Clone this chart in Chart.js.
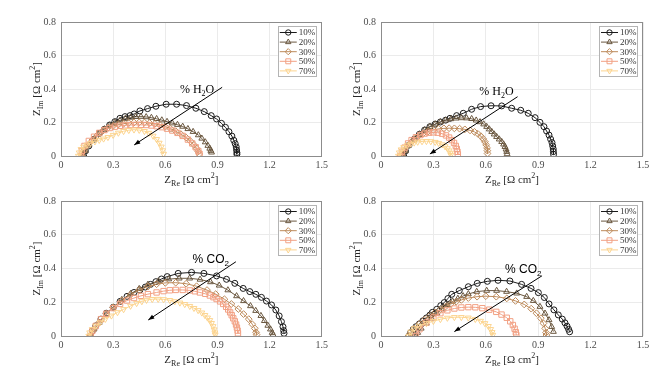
<!DOCTYPE html>
<html>
<head>
<meta charset="utf-8">
<script src="https://cdn.jsdelivr.net/npm/chart.js@4.4.0/dist/chart.umd.min.js"></script>
<style>
  body { margin: 0; background: #fff; width: 662px; height: 370px; position: relative; overflow: hidden; }
  canvas { position: absolute; }
</style>
</head>
<body>
<canvas id="pTL" width="331" height="192" style="left:0;top:0"></canvas>
<canvas id="pTR" width="331" height="192" style="left:331px;top:0"></canvas>
<canvas id="pBL" width="331" height="185" style="left:0;top:185px"></canvas>
<canvas id="pBR" width="331" height="185" style="left:331px;top:185px"></canvas>
<script>
// legend labels and axis ticks
const pctLabels = ['10%', '20%', '30%', '50%', '70%'];
const xTicks = [0, 0.3, 0.6, 0.9, 1.2, 1.5];
const yTicks = [0, 0.2, 0.4, 0.6, 0.8];

// top left, % H2O  -- [Z_Re, Z_Im] in ohm cm2
const h2oA_10 = [[0.13,0.0],[0.14,0.03],[0.16,0.06],[0.19,0.10],[0.22,0.135],[0.25,0.16],[0.28,0.185],[0.31,0.205],[0.339,0.225],[0.368,0.235],[0.397,0.241],[0.421,0.251],[0.454,0.269],[0.498,0.283],[0.546,0.297],[0.605,0.309],[0.665,0.309],[0.722,0.301],[0.776,0.285],[0.824,0.265],[0.864,0.241],[0.895,0.221],[0.923,0.195],[0.946,0.171],[0.966,0.145],[0.983,0.119],[0.994,0.094],[1.002,0.074],[1.008,0.054],[1.010,0.036],[1.012,0.020],[1.012,0.010]];
const h2oA_20 = [[0.13,0.0],[0.14,0.03],[0.16,0.065],[0.19,0.10],[0.22,0.135],[0.25,0.16],[0.28,0.182],[0.31,0.2],[0.34,0.213],[0.37,0.223],[0.40,0.23],[0.43,0.234],[0.46,0.235],[0.49,0.233],[0.52,0.229],[0.55,0.222],[0.58,0.214],[0.61,0.205],[0.64,0.196],[0.67,0.187],[0.70,0.176],[0.73,0.162],[0.76,0.145],[0.79,0.125],[0.81,0.105],[0.83,0.083],[0.845,0.062],[0.856,0.045],[0.862,0.032],[0.866,0.022]];
const h2oA_30 = [[0.12,0.0],[0.13,0.03],[0.15,0.06],[0.18,0.095],[0.21,0.125],[0.24,0.15],[0.27,0.168],[0.30,0.18],[0.33,0.188],[0.36,0.193],[0.39,0.197],[0.42,0.2],[0.45,0.201],[0.48,0.2],[0.51,0.197],[0.54,0.192],[0.57,0.185],[0.60,0.175],[0.63,0.163],[0.66,0.148],[0.69,0.13],[0.72,0.11],[0.745,0.088],[0.765,0.066],[0.78,0.045],[0.79,0.027],[0.795,0.012]];
const h2oA_50 = [[0.115,0.0],[0.12,0.03],[0.135,0.06],[0.16,0.09],[0.19,0.115],[0.22,0.138],[0.25,0.155],[0.28,0.167],[0.31,0.175],[0.34,0.18],[0.37,0.183],[0.40,0.185],[0.43,0.186],[0.46,0.186],[0.49,0.185],[0.52,0.182],[0.55,0.178],[0.58,0.172],[0.61,0.163],[0.64,0.152],[0.67,0.138],[0.70,0.12],[0.73,0.098],[0.755,0.075],[0.775,0.052],[0.79,0.03],[0.797,0.012]];
const h2oA_70 = [[0.10,0.0],[0.105,0.02],[0.115,0.04],[0.13,0.055],[0.15,0.067],[0.17,0.077],[0.195,0.086],[0.22,0.095],[0.245,0.103],[0.27,0.112],[0.30,0.125],[0.33,0.138],[0.36,0.148],[0.39,0.154],[0.42,0.157],[0.45,0.155],[0.48,0.148],[0.505,0.137],[0.53,0.12],[0.55,0.1],[0.565,0.078],[0.577,0.055],[0.585,0.033],[0.59,0.012]];

// top right, % H2O
const h2oB_10 = [[0.13,0.0],[0.14,0.03],[0.16,0.065],[0.19,0.10],[0.22,0.13],[0.25,0.155],[0.28,0.175],[0.31,0.19],[0.34,0.203],[0.37,0.214],[0.395,0.225],[0.433,0.241],[0.471,0.255],[0.519,0.279],[0.570,0.295],[0.630,0.300],[0.691,0.299],[0.748,0.285],[0.800,0.273],[0.843,0.255],[0.882,0.229],[0.910,0.201],[0.933,0.175],[0.948,0.149],[0.962,0.125],[0.971,0.101],[0.979,0.080],[0.983,0.060],[0.986,0.042],[0.987,0.026],[0.988,0.010]];
const h2oB_20 = [[0.13,0.0],[0.14,0.03],[0.16,0.065],[0.19,0.10],[0.22,0.13],[0.25,0.155],[0.28,0.175],[0.31,0.19],[0.34,0.203],[0.37,0.213],[0.40,0.221],[0.43,0.225],[0.46,0.227],[0.49,0.226],[0.519,0.222],[0.545,0.213],[0.567,0.203],[0.588,0.19],[0.605,0.175],[0.62,0.16],[0.634,0.145],[0.648,0.13],[0.662,0.115],[0.677,0.1],[0.691,0.085],[0.702,0.07],[0.71,0.055],[0.716,0.04],[0.72,0.026],[0.722,0.012]];
const h2oB_30 = [[0.12,0.0],[0.13,0.03],[0.15,0.06],[0.18,0.09],[0.21,0.115],[0.24,0.133],[0.27,0.146],[0.30,0.156],[0.33,0.162],[0.36,0.165],[0.39,0.166],[0.42,0.165],[0.45,0.163],[0.48,0.159],[0.51,0.153],[0.535,0.144],[0.555,0.132],[0.572,0.118],[0.585,0.102],[0.595,0.085],[0.602,0.067],[0.607,0.049],[0.609,0.032],[0.61,0.015]];
const h2oB_50 = [[0.11,0.0],[0.12,0.025],[0.135,0.05],[0.155,0.075],[0.175,0.095],[0.2,0.112],[0.225,0.125],[0.25,0.134],[0.275,0.139],[0.3,0.141],[0.325,0.139],[0.35,0.133],[0.372,0.123],[0.39,0.11],[0.405,0.095],[0.418,0.078],[0.428,0.06],[0.434,0.042],[0.438,0.025],[0.44,0.01]];
const h2oB_70 = [[0.10,0.0],[0.105,0.02],[0.115,0.038],[0.13,0.052],[0.15,0.063],[0.17,0.072],[0.19,0.079],[0.21,0.084],[0.235,0.087],[0.26,0.088],[0.285,0.087],[0.31,0.083],[0.33,0.077],[0.35,0.068],[0.367,0.057],[0.38,0.045],[0.39,0.032],[0.397,0.018],[0.40,0.006]];

// bottom left, % CO2
const co2A_10 = [[0.17,0.0],[0.18,0.03],[0.2,0.06],[0.23,0.1],[0.26,0.135],[0.30,0.17],[0.34,0.205],[0.38,0.235],[0.42,0.258],[0.454,0.273],[0.485,0.29],[0.515,0.306],[0.546,0.322],[0.578,0.338],[0.611,0.352],[0.674,0.371],[0.751,0.377],[0.822,0.371],[0.895,0.356],[0.952,0.336],[1.0,0.312],[1.048,0.282],[1.086,0.263],[1.121,0.247],[1.153,0.229],[1.182,0.207],[1.211,0.184],[1.236,0.154],[1.255,0.119],[1.268,0.085],[1.277,0.055],[1.281,0.032],[1.283,0.016]];
const co2A_20 = [[0.17,0.0],[0.19,0.04],[0.22,0.08],[0.26,0.13],[0.30,0.17],[0.35,0.215],[0.40,0.25],[0.45,0.28],[0.50,0.305],[0.56,0.325],[0.62,0.337],[0.68,0.342],[0.74,0.342],[0.80,0.335],[0.86,0.32],[0.91,0.30],[0.96,0.272],[1.01,0.237],[1.05,0.208],[1.09,0.178],[1.12,0.15],[1.15,0.12],[1.17,0.09],[1.19,0.062],[1.205,0.04],[1.215,0.02],[1.22,0.008]];
const co2A_30 = [[0.17,0.0],[0.19,0.04],[0.22,0.08],[0.26,0.13],[0.30,0.17],[0.35,0.21],[0.40,0.245],[0.45,0.272],[0.50,0.293],[0.55,0.307],[0.60,0.315],[0.66,0.316],[0.72,0.31],[0.78,0.295],[0.84,0.272],[0.89,0.248],[0.94,0.218],[0.98,0.19],[1.02,0.16],[1.05,0.13],[1.08,0.10],[1.10,0.07],[1.115,0.045],[1.122,0.022],[1.125,0.008]];
const co2A_50 = [[0.17,0.0],[0.18,0.03],[0.2,0.06],[0.23,0.1],[0.26,0.132],[0.30,0.165],[0.34,0.19],[0.38,0.21],[0.42,0.225],[0.46,0.238],[0.50,0.248],[0.55,0.258],[0.59,0.266],[0.626,0.271],[0.66,0.273],[0.70,0.273],[0.741,0.27],[0.77,0.265],[0.799,0.258],[0.83,0.25],[0.856,0.24],[0.877,0.23],[0.895,0.219],[0.915,0.205],[0.933,0.19],[0.95,0.173],[0.962,0.157],[0.973,0.14],[0.982,0.123],[0.991,0.105],[1.0,0.087],[1.007,0.068],[1.012,0.05],[1.016,0.032],[1.018,0.016]];
const co2A_70 = [[0.16,0.0],[0.165,0.02],[0.18,0.04],[0.2,0.06],[0.225,0.08],[0.255,0.1],[0.29,0.12],[0.325,0.14],[0.36,0.158],[0.40,0.178],[0.435,0.194],[0.465,0.205],[0.492,0.213],[0.525,0.218],[0.559,0.219],[0.59,0.217],[0.626,0.212],[0.655,0.205],[0.684,0.197],[0.712,0.188],[0.741,0.177],[0.765,0.165],[0.789,0.152],[0.81,0.138],[0.828,0.123],[0.843,0.108],[0.856,0.093],[0.866,0.076],[0.875,0.057],[0.881,0.038],[0.885,0.02],[0.887,0.008]];

// bottom right, % CO2
const co2B_10 = [[0.16,0.0],[0.17,0.02],[0.185,0.04],[0.2,0.055],[0.22,0.072],[0.24,0.09],[0.26,0.107],[0.28,0.124],[0.294,0.140],[0.319,0.158],[0.342,0.180],[0.362,0.198],[0.383,0.222],[0.405,0.247],[0.448,0.269],[0.500,0.292],[0.551,0.312],[0.609,0.324],[0.670,0.330],[0.738,0.326],[0.805,0.306],[0.859,0.282],[0.901,0.257],[0.935,0.228],[0.962,0.19],[0.99,0.155],[1.015,0.125],[1.038,0.1],[1.053,0.078],[1.065,0.058],[1.074,0.04],[1.08,0.025]];
const co2B_20 = [[0.2,0.0],[0.21,0.02],[0.23,0.045],[0.26,0.075],[0.29,0.105],[0.32,0.135],[0.35,0.16],[0.38,0.185],[0.41,0.205],[0.44,0.222],[0.47,0.237],[0.5,0.249],[0.548,0.263],[0.605,0.269],[0.662,0.269],[0.719,0.263],[0.777,0.253],[0.834,0.233],[0.872,0.209],[0.91,0.174],[0.939,0.134],[0.962,0.095],[0.977,0.055],[0.987,0.026]];
const co2B_30 = [[0.16,0.0],[0.17,0.02],[0.19,0.045],[0.22,0.072],[0.25,0.097],[0.28,0.12],[0.31,0.14],[0.34,0.158],[0.37,0.175],[0.4,0.19],[0.43,0.203],[0.46,0.214],[0.5,0.225],[0.55,0.233],[0.6,0.236],[0.66,0.233],[0.72,0.223],[0.77,0.208],[0.82,0.187],[0.86,0.162],[0.89,0.135],[0.915,0.105],[0.93,0.075],[0.94,0.045],[0.945,0.02],[0.947,0.006]];
const co2B_50 = [[0.2,0.0],[0.22,0.04],[0.26,0.08],[0.3,0.11],[0.34,0.135],[0.38,0.152],[0.42,0.163],[0.46,0.169],[0.5,0.171],[0.54,0.17],[0.58,0.165],[0.62,0.156],[0.66,0.143],[0.69,0.127],[0.72,0.108],[0.74,0.087],[0.755,0.065],[0.765,0.043],[0.772,0.022],[0.775,0.006]];
const co2B_70 = [[0.16,0.0],[0.17,0.025],[0.19,0.045],[0.22,0.06],[0.26,0.075],[0.3,0.088],[0.34,0.099],[0.38,0.107],[0.42,0.111],[0.46,0.111],[0.5,0.108],[0.54,0.1],[0.57,0.089],[0.595,0.075],[0.615,0.058],[0.628,0.04],[0.636,0.022],[0.64,0.006]];

const seriesColors = ['#1a1a1a', '#6b5840', '#bd8a5a', '#f2a184', '#fcd48f'];
const seriesMarkers = ['circle', 'triangle', 'rectRot', 'rect', 'triangle'];
const markerRotation = [0, 0, 0, 0, 180];
const markerRadius = [3, 3.4, 3.4, 3.8, 3.4];

const serif = '"Liberation Serif", "Times New Roman", serif';
const sans = '"Liberation Sans", Arial, sans-serif';

function makeDatasets(series) {
  return series.map((pts, i) => ({
    label: pctLabels[i],
    data: pts.map(p => ({ x: p[0], y: p[1] })),
    showLine: true,
    borderColor: seriesColors[i],
    backgroundColor: 'rgba(0,0,0,0)',
    borderWidth: 1,
    pointStyle: seriesMarkers[i],
    pointRotation: markerRotation[i],
    pointRadius: markerRadius[i],
    pointBorderWidth: 1,
    pointBorderColor: seriesColors[i],
    pointBackgroundColor: 'rgba(0,0,0,0)',
    order: 5 - i
  }));
}

// draw a run of text pieces with sub/superscripts
function richText(ctx, parts, x, y, family, align) {
  let w = 0;
  parts.forEach(p => { ctx.font = p.size + 'px ' + family; w += ctx.measureText(p.t).width; });
  let cx = align === 'left' ? x : x - w / 2;
  ctx.textAlign = 'left';
  ctx.textBaseline = 'alphabetic';
  parts.forEach(p => {
    ctx.font = p.size + 'px ' + family;
    ctx.fillText(p.t, cx, y + (p.dy || 0));
    cx += ctx.measureText(p.t).width;
  });
}

function arrow(ctx, x1, y1, x2, y2) {
  ctx.beginPath();
  ctx.moveTo(x1, y1);
  ctx.lineTo(x2, y2);
  ctx.stroke();
  const a = Math.atan2(y2 - y1, x2 - x1), L = 6, W = 2.3;
  ctx.beginPath();
  ctx.moveTo(x2, y2);
  ctx.lineTo(x2 - L * Math.cos(a) + W * Math.sin(a), y2 - L * Math.sin(a) - W * Math.cos(a));
  ctx.lineTo(x2 - L * Math.cos(a) - W * Math.sin(a), y2 - L * Math.sin(a) + W * Math.cos(a));
  ctx.closePath();
  ctx.fill();
}

const decorPlugin = {
  id: 'decor',
  afterDatasetsDraw(chart) {
    const ctx = chart.ctx, a = chart.chartArea, sx = chart.scales.x, sy = chart.scales.y;
    const cfg = chart.options.plugins.decor;
    ctx.save();

    // axes box
    ctx.strokeStyle = '#8c8c8c';
    ctx.lineWidth = 1;
    ctx.strokeRect(Math.round(a.left) + 0.5, Math.round(a.top) + 0.5, Math.round(a.right - a.left) - 1, Math.round(a.bottom - a.top));

    // arrow and label
    ctx.strokeStyle = '#000';
    ctx.fillStyle = '#000';
    ctx.lineWidth = 1;
    arrow(ctx, sx.getPixelForValue(cfg.arrow[0]), sy.getPixelForValue(cfg.arrow[1]),
               sx.getPixelForValue(cfg.arrow[2]), sy.getPixelForValue(cfg.arrow[3]));
    richText(ctx, cfg.label, sx.getPixelForValue(cfg.labelAt[0]), sy.getPixelForValue(cfg.labelAt[1]), cfg.labelFont, 'left');

    // legend
    const bw = 38, bh = 50;
    const bx = a.right - 6 - bw, by = a.top + 4;
    ctx.fillStyle = '#fff';
    ctx.fillRect(bx, by, bw, bh);
    ctx.strokeStyle = '#b4b4b4';
    ctx.strokeRect(Math.round(bx) + 0.5, Math.round(by) + 0.5, bw, bh);
    chart.data.datasets.forEach((ds, i) => {
      const y = by + 6.5 + i * 9.6;
      ctx.strokeStyle = ds.borderColor;
      ctx.lineWidth = 1;
      ctx.beginPath();
      ctx.moveTo(bx + 2, y);
      ctx.lineTo(bx + 19, y);
      ctx.stroke();
      ctx.fillStyle = 'rgba(0,0,0,0)';
      Chart.helpers.drawPoint(ctx, { pointStyle: ds.pointStyle, radius: ds.pointRadius - 0.3, rotation: ds.pointRotation, borderWidth: 1 }, bx + 10.5, y);
      ctx.fillStyle = '#333';
      ctx.font = '9px ' + serif;
      ctx.textAlign = 'left';
      ctx.textBaseline = 'middle';
      ctx.fillText(ds.label, bx + 21, y + 0.5);
    });

    // axis titles
    ctx.fillStyle = '#262626';
    const unit = [{ t: ' [\u03A9 cm', size: 11 }, { t: '2', size: 8, dy: -5 }, { t: ']', size: 11 }];
    richText(ctx, [{ t: 'Z', size: 11 }, { t: 'Re', size: 8, dy: 3 }].concat(unit), (a.left + a.right) / 2, a.bottom + 27, serif);
    ctx.save();
    ctx.translate(a.left - 21, (a.top + a.bottom) / 2);
    ctx.rotate(-Math.PI / 2);
    richText(ctx, [{ t: 'Z', size: 11 }, { t: 'Im', size: 8, dy: 3 }].concat(unit), 0, 0, serif);
    ctx.restore();

    ctx.restore();
  }
};

const tickFont = { family: serif, size: 10 };

function makePanel(id, series, box, decor) {
  new Chart(document.getElementById(id), {
    type: 'scatter',
    data: { datasets: makeDatasets(series) },
    plugins: [decorPlugin],
    options: {
      responsive: false,
      animation: false,
      layout: { padding: { top: box.top, right: box.right, left: 0, bottom: 0 } },
      plugins: { legend: { display: false }, tooltip: { enabled: false }, decor: decor },
      scales: {
        x: {
          type: 'linear', min: 0, max: 1.5,
          afterBuildTicks: s => { s.ticks = xTicks.map(v => ({ value: v })); },
          ticks: { padding: 3, font: tickFont, color: '#4d4d4d', maxRotation: 0, callback: v => String(v) },
          grid: { color: '#ebebeb', drawTicks: false },
          border: { display: false },
          afterFit: s => { s.height = box.xh; }
        },
        y: {
          type: 'linear', min: 0, max: 0.8,
          afterBuildTicks: s => { s.ticks = yTicks.map(v => ({ value: v })); },
          ticks: { padding: 5, font: tickFont, color: '#4d4d4d', callback: v => String(v) },
          grid: { color: '#ebebeb', drawTicks: false },
          border: { display: false },
          afterFit: s => { s.width = box.left; }
        }
      }
    }
  });
}

const h2oLabel = [{ t: '% H', size: 12 }, { t: '2', size: 8, dy: 3 }, { t: 'O', size: 12 }];
const co2Label = [{ t: '% CO', size: 12 }, { t: '2', size: 8, dy: 3 }];

makePanel('pTL', [h2oA_10, h2oA_20, h2oA_30, h2oA_50, h2oA_70],
  { left: 61, right: 9, top: 22, xh: 36 },
  { arrow: [0.927, 0.41, 0.421, 0.066], label: h2oLabel, labelAt: [0.684, 0.378], labelFont: serif });
makePanel('pTR', [h2oB_10, h2oB_20, h2oB_30, h2oB_50, h2oB_70],
  { left: 50, right: 19, top: 22, xh: 36 },
  { arrow: [0.782, 0.354, 0.28, 0.012], label: h2oLabel, labelAt: [0.563, 0.364], labelFont: serif });
makePanel('pBL', [co2A_10, co2A_20, co2A_30, co2A_50, co2A_70],
  { left: 61, right: 9, top: 16, xh: 34 },
  { arrow: [1.006, 0.44, 0.502, 0.095], label: co2Label, labelAt: [0.757, 0.431], labelFont: sans });
makePanel('pBR', [co2B_10, co2B_20, co2B_30, co2B_50, co2B_70],
  { left: 50, right: 19, top: 16, xh: 34 },
  { arrow: [0.922, 0.357, 0.42, 0.026], label: co2Label, labelAt: [0.71, 0.372], labelFont: sans });
</script>
</body>
</html>
